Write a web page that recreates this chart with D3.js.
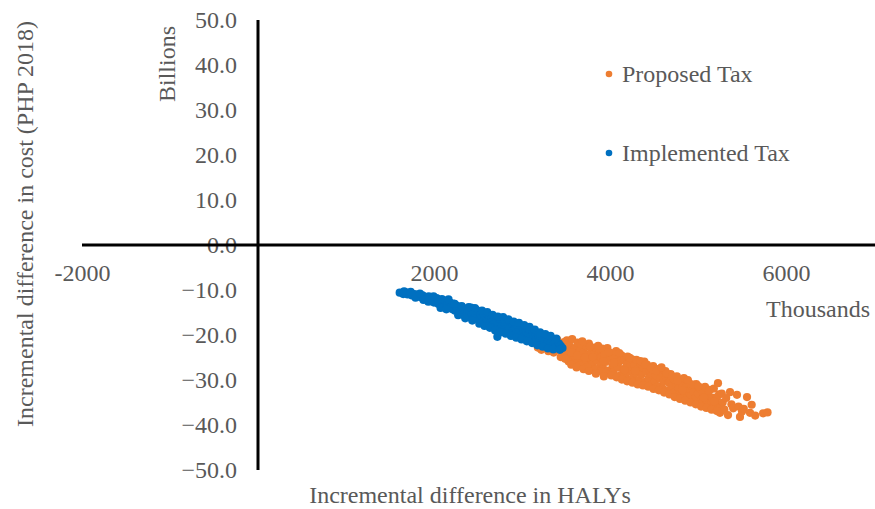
<!DOCTYPE html>
<html>
<head>
<meta charset="utf-8">
<script src="https://cdn.jsdelivr.net/npm/d3@7"></script>
<style>
  html, body { margin: 0; padding: 0; background: #fff; }
  svg { display: block; }
  text { font-family: "Liberation Serif", "Times New Roman", serif; fill: #595959; }
</style>
</head>
<body>
<svg id="chart" width="875" height="509"></svg>
<script>
// ---- Data (x: HALYs, thousands; y: cost, billions PHP 2018) ----
const seriesNames = ["Proposed Tax", "Implemented Tax"];
const seriesColors = ["#ED7D31", "#0070C0"];

const proposedTax = [
  [3150,-21.6],[3180,-22.8],[3200,-20.5],[3220,-23.3],[3240,-21.8],[3260,-22.6],[3280,-20.9],[3300,-23.6],
  [3320,-22.0],[3340,-21.2],[3360,-23.9],[3380,-22.5],[3400,-21.0],[3420,-23.4],[3440,-22.2],[3460,-24.3],
  [3480,-21.6],[3500,-23.0],
  [3510,-21.2],[3520,-24.6],[3540,-22.4],[3550,-23.7],[3570,-20.9],[3580,-25.2],[3600,-22.9],[3610,-24.0],
  [3630,-21.7],[3640,-25.6],[3660,-23.3],[3670,-22.0],[3690,-24.8],[3700,-23.7],[3720,-26.0],[3730,-22.5],
  [3750,-24.3],[3760,-21.9],[3780,-25.4],[3790,-23.6],[3800,-26.5],[3820,-24.1],[3830,-22.8],[3850,-25.7],
  [3860,-24.6],[3880,-23.2],[3890,-26.8],[3900,-25.0],
  [3910,-23.0],[3920,-27.4],[3940,-24.4],[3950,-26.0],[3970,-22.9],[3980,-27.9],[4000,-25.3],[4010,-24.0],
  [4030,-26.8],[4040,-28.3],[4060,-25.0],[4070,-23.6],[4090,-27.2],[4100,-26.0],[4120,-28.9],[4130,-24.5],
  [4150,-27.6],[4160,-25.6],[4180,-29.3],[4190,-26.5],[4200,-24.8],[4220,-28.1],[4230,-27.0],[4250,-25.4],
  [4260,-29.6],[4280,-26.7],[4290,-28.5],[4300,-25.5],[4320,-27.6],[4330,-30.0],[4350,-26.4],[4360,-28.8],
  [4380,-27.3],[4390,-25.9],[4400,-30.4],
  [4410,-28.1],[4420,-26.6],[4440,-29.6],[4450,-27.8],[4470,-31.0],[4480,-28.9],[4490,-26.9],[4510,-30.2],
  [4520,-29.0],[4540,-27.6],[4550,-31.4],[4570,-29.7],[4580,-28.3],[4600,-31.9],[4610,-30.3],[4630,-28.0],
  [4640,-29.4],[4660,-32.3],[4670,-30.6],[4690,-28.7],[4700,-31.5],[4720,-29.8],[4730,-32.7],[4750,-30.9],
  [4760,-29.2],[4780,-31.9],[4790,-33.2],[4810,-30.4],[4820,-31.4],[4840,-29.6],[4850,-33.4],[4870,-31.6],
  [4880,-32.5],[4900,-30.7],
  [4920,-33.6],[4930,-31.5],[4950,-32.6],[4970,-34.1],[4980,-30.9],[5000,-33.0],[5020,-31.9],[5040,-34.5],
  [5060,-32.8],[5080,-31.5],[5100,-34.9],[5110,-33.4],[5130,-32.2],[5150,-35.2],[5160,-33.9],[5180,-31.9],
  [5200,-34.4],[5220,-35.6],[5240,-33.2],[5250,-36.0],
  [5216,-33.8],[5227,-30.7],[5250,-37.3],[5280,-35.0],[5300,-36.6],[5341,-37.8],[5364,-32.7],[5380,-35.4],
  [5400,-36.3],[5443,-33.3],[5460,-35.9],[5477,-38.2],[5500,-37.0],[5520,-36.4],[5557,-33.8],[5591,-37.3],
  [5610,-35.5],[5650,-37.9],[5740,-37.4],[5790,-37.2],
  [3530,-25.9],[3565,-23.9],[3595,-26.3],[3625,-24.6],[3655,-26.8],[3685,-21.4],[3715,-25.0],[3745,-27.2],
  [3775,-22.6],[3805,-24.9],[3835,-27.6],[3865,-22.4],[3895,-28.0],[3925,-25.8],[3955,-28.5],[3985,-23.8],
  [4015,-29.0],[4045,-26.2],[4075,-29.4],[4105,-24.0],[4135,-29.9],[4165,-27.8],[4195,-30.3],[4225,-25.1],
  [4255,-30.6],[4285,-28.0],[4315,-31.0],[4345,-25.8],[4375,-31.2],[4405,-26.6],[4435,-31.5],[4465,-27.4],
  [4495,-32.0],[4525,-28.0],[4555,-32.3],[4585,-27.2],[4615,-32.8],[4645,-28.6],[4675,-33.2],[4705,-29.2],
  [4735,-33.8],[4765,-30.2],[4795,-34.2],[4825,-32.3],[4855,-34.6],[4885,-30.0],[4915,-35.0],[4945,-31.0],
  [4975,-35.4],[5005,-31.4],[5035,-35.9],[5065,-33.9],[5095,-36.2],[5125,-32.4],[5155,-36.6],[5185,-34.8],
  [5215,-36.9],[5270,-33.0],[5320,-34.0],
  [3440,-24.9],[3490,-25.3],[3560,-26.6],[3620,-27.2],[3700,-27.6],[3760,-28.0],[3840,-28.6],[3930,-29.2]
];

const implementedTax = [
  [1610,-10.6],[1650,-10.9],[1680,-10.5],[1700,-11.0],[1720,-10.7],[1750,-11.2],[1780,-10.9],[1800,-11.4],
  [1820,-11.1],[1850,-11.6],[1870,-11.2],[1890,-11.9],[1900,-11.5],
  [1920,-12.1],[1940,-11.4],[1960,-12.5],[1980,-11.9],[2000,-12.8],[2010,-12.2],[2030,-11.8],[2050,-13.1],
  [2060,-12.5],[2080,-13.5],[2090,-12.0],[2100,-12.9],[2120,-13.6],[2130,-12.4],[2150,-13.2],[2170,-14.0],
  [2180,-12.8],[2200,-13.6],[2210,-14.3],[2220,-13.0],
  [2240,-14.6],[2250,-13.4],[2260,-14.0],[2280,-15.0],[2290,-13.7],[2300,-14.5],[2320,-15.4],[2330,-14.0],
  [2340,-14.9],[2360,-15.8],[2370,-14.3],[2380,-15.2],[2400,-14.7],[2410,-16.1],[2420,-13.9],[2430,-15.5],
  [2450,-14.9],[2460,-16.4],[2470,-15.2],[2480,-14.4],[2490,-16.0],[2500,-15.6],
  [2510,-14.8],[2520,-16.8],[2530,-15.4],[2540,-17.2],[2550,-16.1],[2560,-15.0],[2570,-16.6],[2580,-17.5],
  [2590,-15.8],[2600,-16.9],[2610,-15.4],[2620,-17.8],[2630,-16.3],[2640,-17.1],[2650,-15.9],[2660,-18.0],
  [2670,-16.7],[2680,-17.4],[2690,-16.0],[2700,-18.3],[2710,-17.0],[2720,-20.4],[2730,-16.5],[2740,-17.7],
  [2750,-18.6],[2760,-16.9],[2770,-17.9],[2780,-16.4],[2790,-18.9],[2800,-17.4],
  [2810,-16.8],[2820,-18.2],[2830,-19.3],[2840,-17.6],[2850,-18.7],[2860,-17.0],[2870,-19.6],[2880,-18.1],
  [2890,-17.4],[2900,-19.0],[2910,-20.0],[2920,-18.5],[2930,-17.7],[2940,-19.4],[2950,-18.0],[2960,-20.3],
  [2970,-18.8],[2980,-17.9],[2990,-19.8],[3000,-18.4],[3010,-20.6],[3020,-19.1],[3030,-18.2],[3040,-20.0],
  [3050,-19.4],[3060,-18.6],[3070,-20.8],[3080,-19.7],[3090,-18.9],[3100,-20.3],
  [3110,-21.2],[3120,-19.2],[3130,-20.6],[3140,-21.6],[3150,-19.8],[3160,-20.9],[3170,-19.5],[3180,-21.9],
  [3190,-20.4],[3200,-21.3],[3210,-20.0],[3220,-22.2],[3230,-20.8],[3250,-21.6],[3260,-20.3],[3280,-22.5],
  [3290,-21.1],[3300,-20.6],[3320,-21.8],[3330,-22.8],[3340,-21.3],[3360,-22.1],[3380,-21.5],[3400,-22.6],
  [3420,-21.9],[3440,-22.4],[3460,-22.9],
  [1660,-10.3],[1735,-10.4],[1790,-11.7],[1840,-10.8],[1880,-12.2],[1935,-12.6],[1995,-11.4],[2045,-12.1],
  [2075,-14.0],[2140,-14.3],[2165,-12.1],[2235,-13.1],[2275,-15.6],[2315,-13.6],[2355,-16.3],[2395,-13.8],
  [2435,-16.8],[2465,-14.0],[2515,-17.5],[2545,-14.6],[2575,-18.0],[2605,-14.9],[2635,-18.4],[2665,-15.5],
  [2695,-19.0],[2725,-15.9],[2755,-19.4],[2785,-16.0],[2815,-19.7],[2845,-16.5],[2875,-20.2],[2905,-17.0],
  [2935,-20.6],[2965,-17.3],[2995,-21.0],[3025,-17.8],[3055,-21.4],[3085,-18.2],[3115,-21.8],[3145,-18.8],
  [3175,-22.3],[3205,-19.4],[3235,-22.6],[3265,-19.8],[3295,-23.0],[3325,-20.2],[3355,-23.2],[3390,-20.8],
  [3430,-23.3]
];

const xTickValues = [-2000, 2000, 4000, 6000];
const yTickValues = [-50, -40, -30, -20, -10, 0, 10, 20, 30, 40, 50];
const xDomain = [-2000, 7000];
const yDomain = [-50, 50];

// ---- Layout ----
const svg = d3.select("#chart");
const x = d3.scaleLinear().domain(xDomain).range([82, 874]);
const y = d3.scaleLinear().domain(yDomain).range([470, 20]);
const fontSize = 24;

// Axis labels (drawn first so axis lines sit on top)
const xAxis = d3.axisBottom(x).tickValues(xTickValues).tickSize(0).tickPadding(19)
  .tickFormat(d => String(d));
const gx = svg.append("g").attr("transform", `translate(0,${y(0)})`).call(xAxis);
gx.select(".domain").remove();
gx.selectAll("text").style("font-family", '"Liberation Serif", serif').style("font-size", fontSize + "px").attr("fill", "#595959");

const yAxis = d3.axisLeft(y).tickValues(yTickValues).tickSize(0).tickPadding(21)
  .tickFormat(d3.format(".1f"));
const gy = svg.append("g").attr("transform", `translate(${x(0)},0)`).call(yAxis);
gy.select(".domain").remove();
gy.selectAll("text").style("font-family", '"Liberation Serif", serif').style("font-size", fontSize + "px").attr("fill", "#595959");

// Axis lines
svg.append("line").attr("x1", x(xDomain[0])).attr("x2", 875).attr("y1", y(0)).attr("y2", y(0))
  .attr("stroke", "#000").attr("stroke-width", 3);
svg.append("line").attr("x1", x(0)).attr("x2", x(0)).attr("y1", y(yDomain[1])).attr("y2", y(yDomain[0]))
  .attr("stroke", "#000").attr("stroke-width", 3);

// Points
const allSeries = [proposedTax, implementedTax];
allSeries.forEach((pts, i) => {
  svg.append("g").selectAll("circle").data(pts).join("circle")
    .attr("cx", d => x(d[0])).attr("cy", d => y(d[1])).attr("r", 4.1)
    .attr("fill", seriesColors[i]);
});

// Titles
svg.append("text").attr("transform", "translate(33,224) rotate(-90)").attr("text-anchor", "middle")
  .style("font-size", fontSize + "px").text("Incremental difference in cost (PHP 2018)");
svg.append("text").attr("transform", "translate(175,64) rotate(-90)").attr("text-anchor", "middle")
  .style("font-size", fontSize + "px").text("Billions");
svg.append("text").attr("x", 470).attr("y", 503).attr("text-anchor", "middle")
  .style("font-size", fontSize + "px").text("Incremental difference in HALYs");
svg.append("text").attr("x", 818).attr("y", 317).attr("text-anchor", "middle")
  .style("font-size", fontSize + "px").text("Thousands");

// Legend
const legendY = [74, 153];
seriesNames.forEach((name, i) => {
  svg.append("circle").attr("cx", 609).attr("cy", legendY[i]).attr("r", 3.3).attr("fill", seriesColors[i]);
  svg.append("text").attr("x", 622).attr("y", legendY[i] + 8).style("font-size", fontSize + "px").text(name);
});
</script>
</body>
</html>
